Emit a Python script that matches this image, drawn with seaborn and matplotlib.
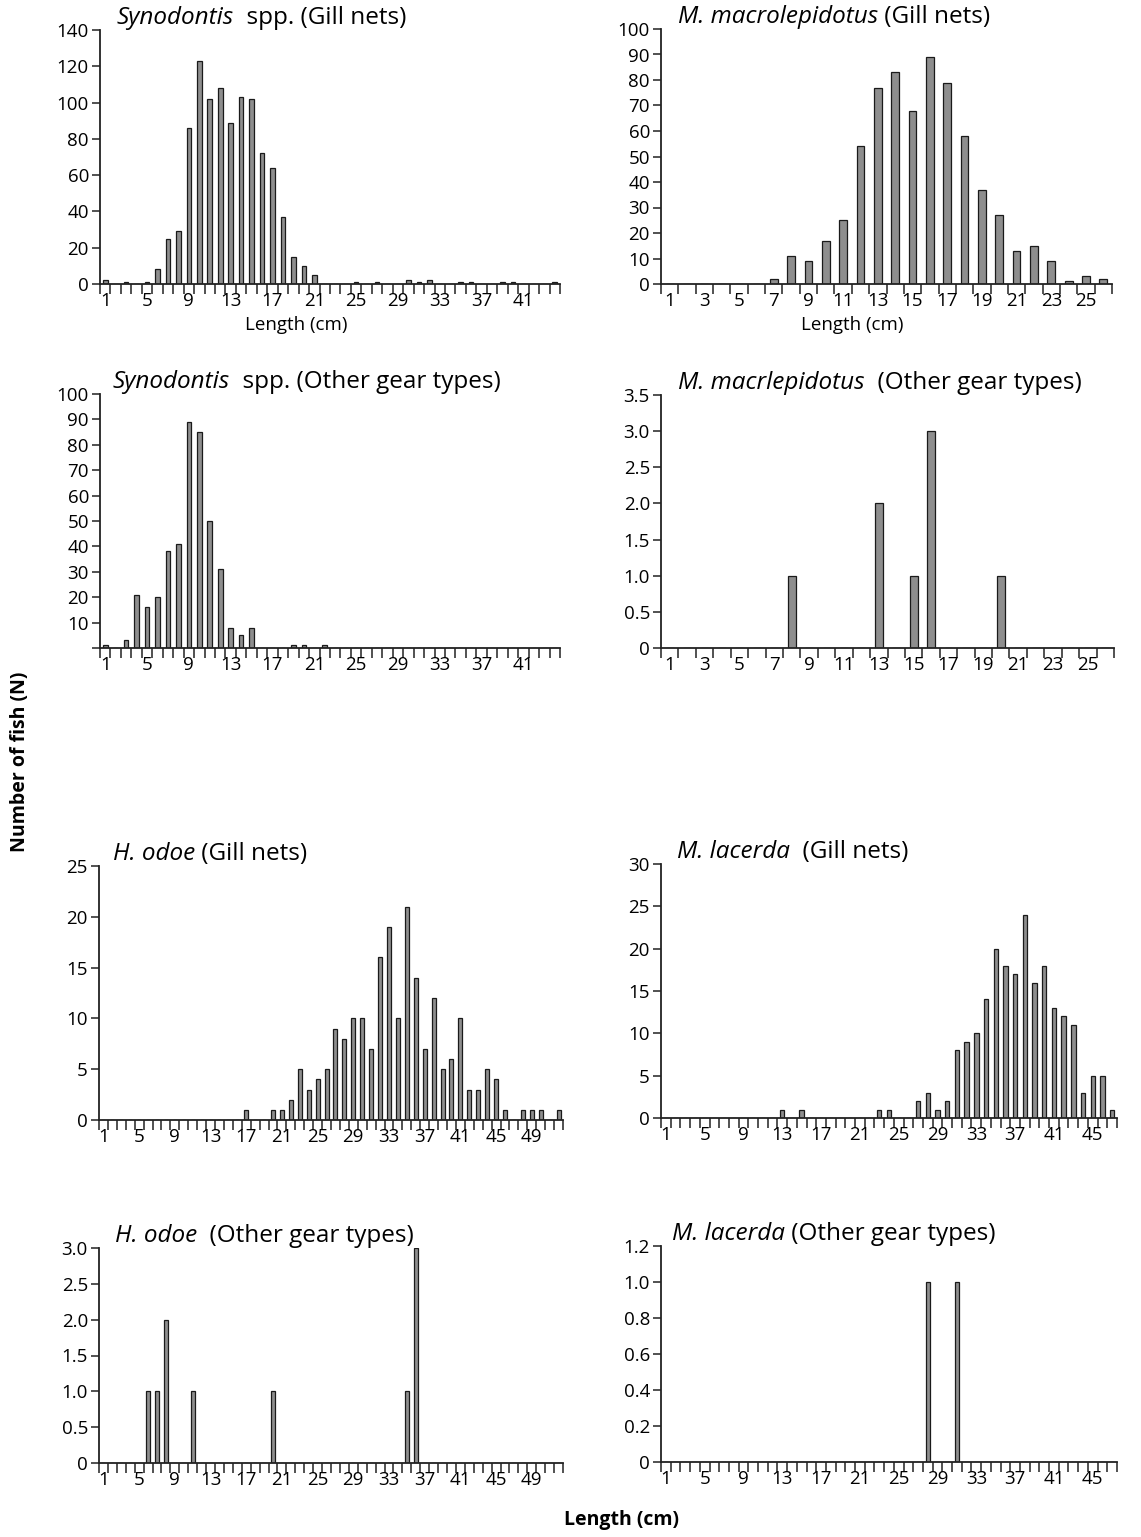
#!/usr/bin/env python3
"""
Length-frequency distributions of four species, gill nets vs other gear types.
"""

import numpy as np
import pandas as pd
import matplotlib
matplotlib.use("Agg")
import matplotlib.pyplot as plt
import seaborn as sns

# ---- data (number of fish per 1 cm length class) ----
syn_gill_len = list(range(1, 45))
syn_gill_n = [2, 0, 1, 0, 1, 8, 25, 29, 86, 123, 102, 108, 89, 103, 102, 72, 64, 37, 15, 10, 5,
              0, 0, 0, 1, 0, 1, 0, 0, 2, 1, 2, 0, 0, 1, 1, 0, 0, 1, 1, 0, 0, 0, 1]

syn_other_len = list(range(1, 45))
syn_other_n = [1, 0, 3, 21, 16, 20, 38, 41, 89, 85, 50, 31, 8, 5, 8, 0, 0, 0, 1, 1, 0, 1,
               0, 0, 0, 0, 0, 0, 0, 0, 0, 0, 0, 0, 0, 0, 0, 0, 0, 0, 0, 0, 0, 0]

mac_gill_len = list(range(1, 27))
mac_gill_n = [0, 0, 0, 0, 0, 0, 2, 11, 9, 17, 25, 54, 77, 83, 68, 89, 79, 58, 37, 27, 13, 15, 9, 1, 3, 2]

mac_other_len = list(range(1, 27))
mac_other_n = [0, 0, 0, 0, 0, 0, 0, 1, 0, 0, 0, 0, 2, 0, 1, 3, 0, 0, 0, 1, 0, 0, 0, 0, 0, 0]

odoe_gill_len = list(range(1, 53))
odoe_gill_n = [0] * 16 + [1, 0, 0, 1, 1, 2, 5, 3, 4, 5, 9, 8, 10, 10, 7, 16, 19, 10, 21, 14, 7,
                          12, 5, 6, 10, 3, 3, 5, 4, 1, 0, 1, 1, 1, 0, 1]

odoe_other_len = list(range(1, 53))
odoe_other_n = [0, 0, 0, 0, 0, 1, 1, 2, 0, 0, 1] + [0] * 8 + [1] + [0] * 14 + [1, 3] + [0] * 16

lac_gill_len = list(range(1, 48))
lac_gill_n = [0] * 12 + [1, 0, 1] + [0] * 7 + [1, 1, 0, 0, 2, 3, 1, 2, 8, 9, 10, 14, 20, 18, 17,
                                             24, 16, 18, 13, 12, 11, 3, 5, 5, 1]

lac_other_len = list(range(1, 48))
lac_other_n = [0] * 27 + [1, 0, 0, 1] + [0] * 16

# panel: (lengths, counts, italic name, rest of title, y ticks, y label fmt, show zero label)
panels = [
    (syn_gill_len, syn_gill_n, "Synodontis", "  spp. (Gill nets)", np.arange(0, 141, 20), "{:.0f}", True),
    (mac_gill_len, mac_gill_n, "M. macrolepidotus", " (Gill nets)", np.arange(0, 101, 10), "{:.0f}", True),
    (syn_other_len, syn_other_n, "Synodontis", "  spp. (Other gear types)", np.arange(0, 101, 10), "{:.0f}", False),
    (mac_other_len, mac_other_n, "M. macrlepidotus", "  (Other gear types)", np.arange(0, 3.51, 0.5), "{:.1f}", True),
    (odoe_gill_len, odoe_gill_n, "H. odoe", " (Gill nets)", np.arange(0, 26, 5), "{:.0f}", True),
    (lac_gill_len, lac_gill_n, "M. lacerda", "  (Gill nets)", np.arange(0, 31, 5), "{:.0f}", True),
    (odoe_other_len, odoe_other_n, "H. odoe", "  (Other gear types)", np.arange(0, 3.01, 0.5), "{:.1f}", True),
    (lac_other_len, lac_other_n, "M. lacerda", " (Other gear types)", np.arange(0, 1.21, 0.2), "{:.1f}", True),
]

# axes boxes in pixels: x0, x1, ytop, ybottom ; title start x
W, H = 1141, 1537
boxes = [
    (100, 560, 30, 284, 117),
    (661, 1112, 29, 284, 678),
    (100, 560, 394, 648, 113),
    (661, 1114, 395, 648, 678),
    (99, 563, 866, 1120, 113),
    (661, 1117, 864, 1118, 677),
    (99, 563, 1248, 1463, 115),
    (661, 1117, 1246, 1462, 672),
]

sns.set_style("white")
TITLE_FONT = ["Open Sans", "DejaVu Sans"]
TICK_FONT = ["Liberation Sans Narrow", "Open Sans", "DejaVu Sans"]
plt.rcParams["font.family"] = TITLE_FONT
plt.rcParams["text.color"] = "black"
plt.rcParams["xtick.color"] = "black"
plt.rcParams["ytick.color"] = "black"

fig = plt.figure(figsize=(W / 100, H / 100), dpi=100)

for (lengths, counts, name, rest, yticks, fmt, zero_lab), (x0, x1, yt, yb, tx) in zip(panels, boxes):
    ax = fig.add_axes([x0 / W, 1 - yb / H, (x1 - x0) / W, (yb - yt) / H])
    df = pd.DataFrame({"Length": [str(v) for v in lengths], "N": counts})
    sns.barplot(data=df, x="Length", y="N", ax=ax, color="#8e8e8e", edgecolor="#1a1a1a",
                linewidth=0.9, width=0.45, saturation=1)
    n = len(lengths)
    ax.set_xlim(-0.5, n - 0.5)
    ax.set_ylim(0, yticks[-1])

    # ticks at class boundaries, labels at every fourth (or second) class centre
    ax.set_xticks(np.arange(-0.5, n, 1.0))
    ax.set_xticklabels([])
    step = 2 if n < 30 else 4
    centres = np.arange(0, n, step)
    ax.set_xticks(centres, minor=True)
    ax.set_xticklabels([str(lengths[i]) for i in centres], minor=True, family=TICK_FONT, fontsize=13.5)
    ax.tick_params(axis="x", which="major", bottom=True, direction="out", length=7, width=1.1,
                   color="#222222")
    ax.tick_params(axis="x", which="minor", bottom=True, length=0, pad=6)

    ax.set_yticks(yticks)
    labs = ["0" if v == 0 else fmt.format(v) for v in yticks]
    if not zero_lab:
        labs[0] = ""
    ax.set_yticklabels(labs, family=TICK_FONT, fontsize=13.5)
    ax.tick_params(axis="y", left=True, direction="out", length=6, width=1.1, color="#222222", pad=2)

    ax.set_xlabel("")
    ax.set_ylabel("")
    sns.despine(ax=ax)
    for s in ("left", "bottom"):
        ax.spines[s].set_linewidth(1.3)
        ax.spines[s].set_color("#222222")

    t1 = ax.text((tx - x0) / (x1 - x0), 1.0, name, transform=ax.transAxes, fontsize=17.5,
                 style="italic", va="bottom", ha="left", clip_on=False)
    ax.annotate(rest, xy=(1, 0), xycoords=t1, fontsize=17.5, va="bottom", ha="left")

# x titles for the top row
fig.text(296 / W, 1 - 325 / H, "Length (cm)", ha="center", va="center", fontsize=13.5)
fig.text(852 / W, 1 - 325 / H, "Length (cm)", ha="center", va="center", fontsize=13.5)

# shared axis titles
fig.text(20 / W, 1 - 762 / H, "Number of fish (N)", rotation=90, ha="center", va="center",
         fontsize=14, fontweight="bold")
fig.text(621 / W, 1 - 1520 / H, "Length (cm)", ha="center", va="center",
         fontsize=14, fontweight="bold")

fig.savefig("out.png", dpi=100)
plt.close(fig)
print("saved out.png")
